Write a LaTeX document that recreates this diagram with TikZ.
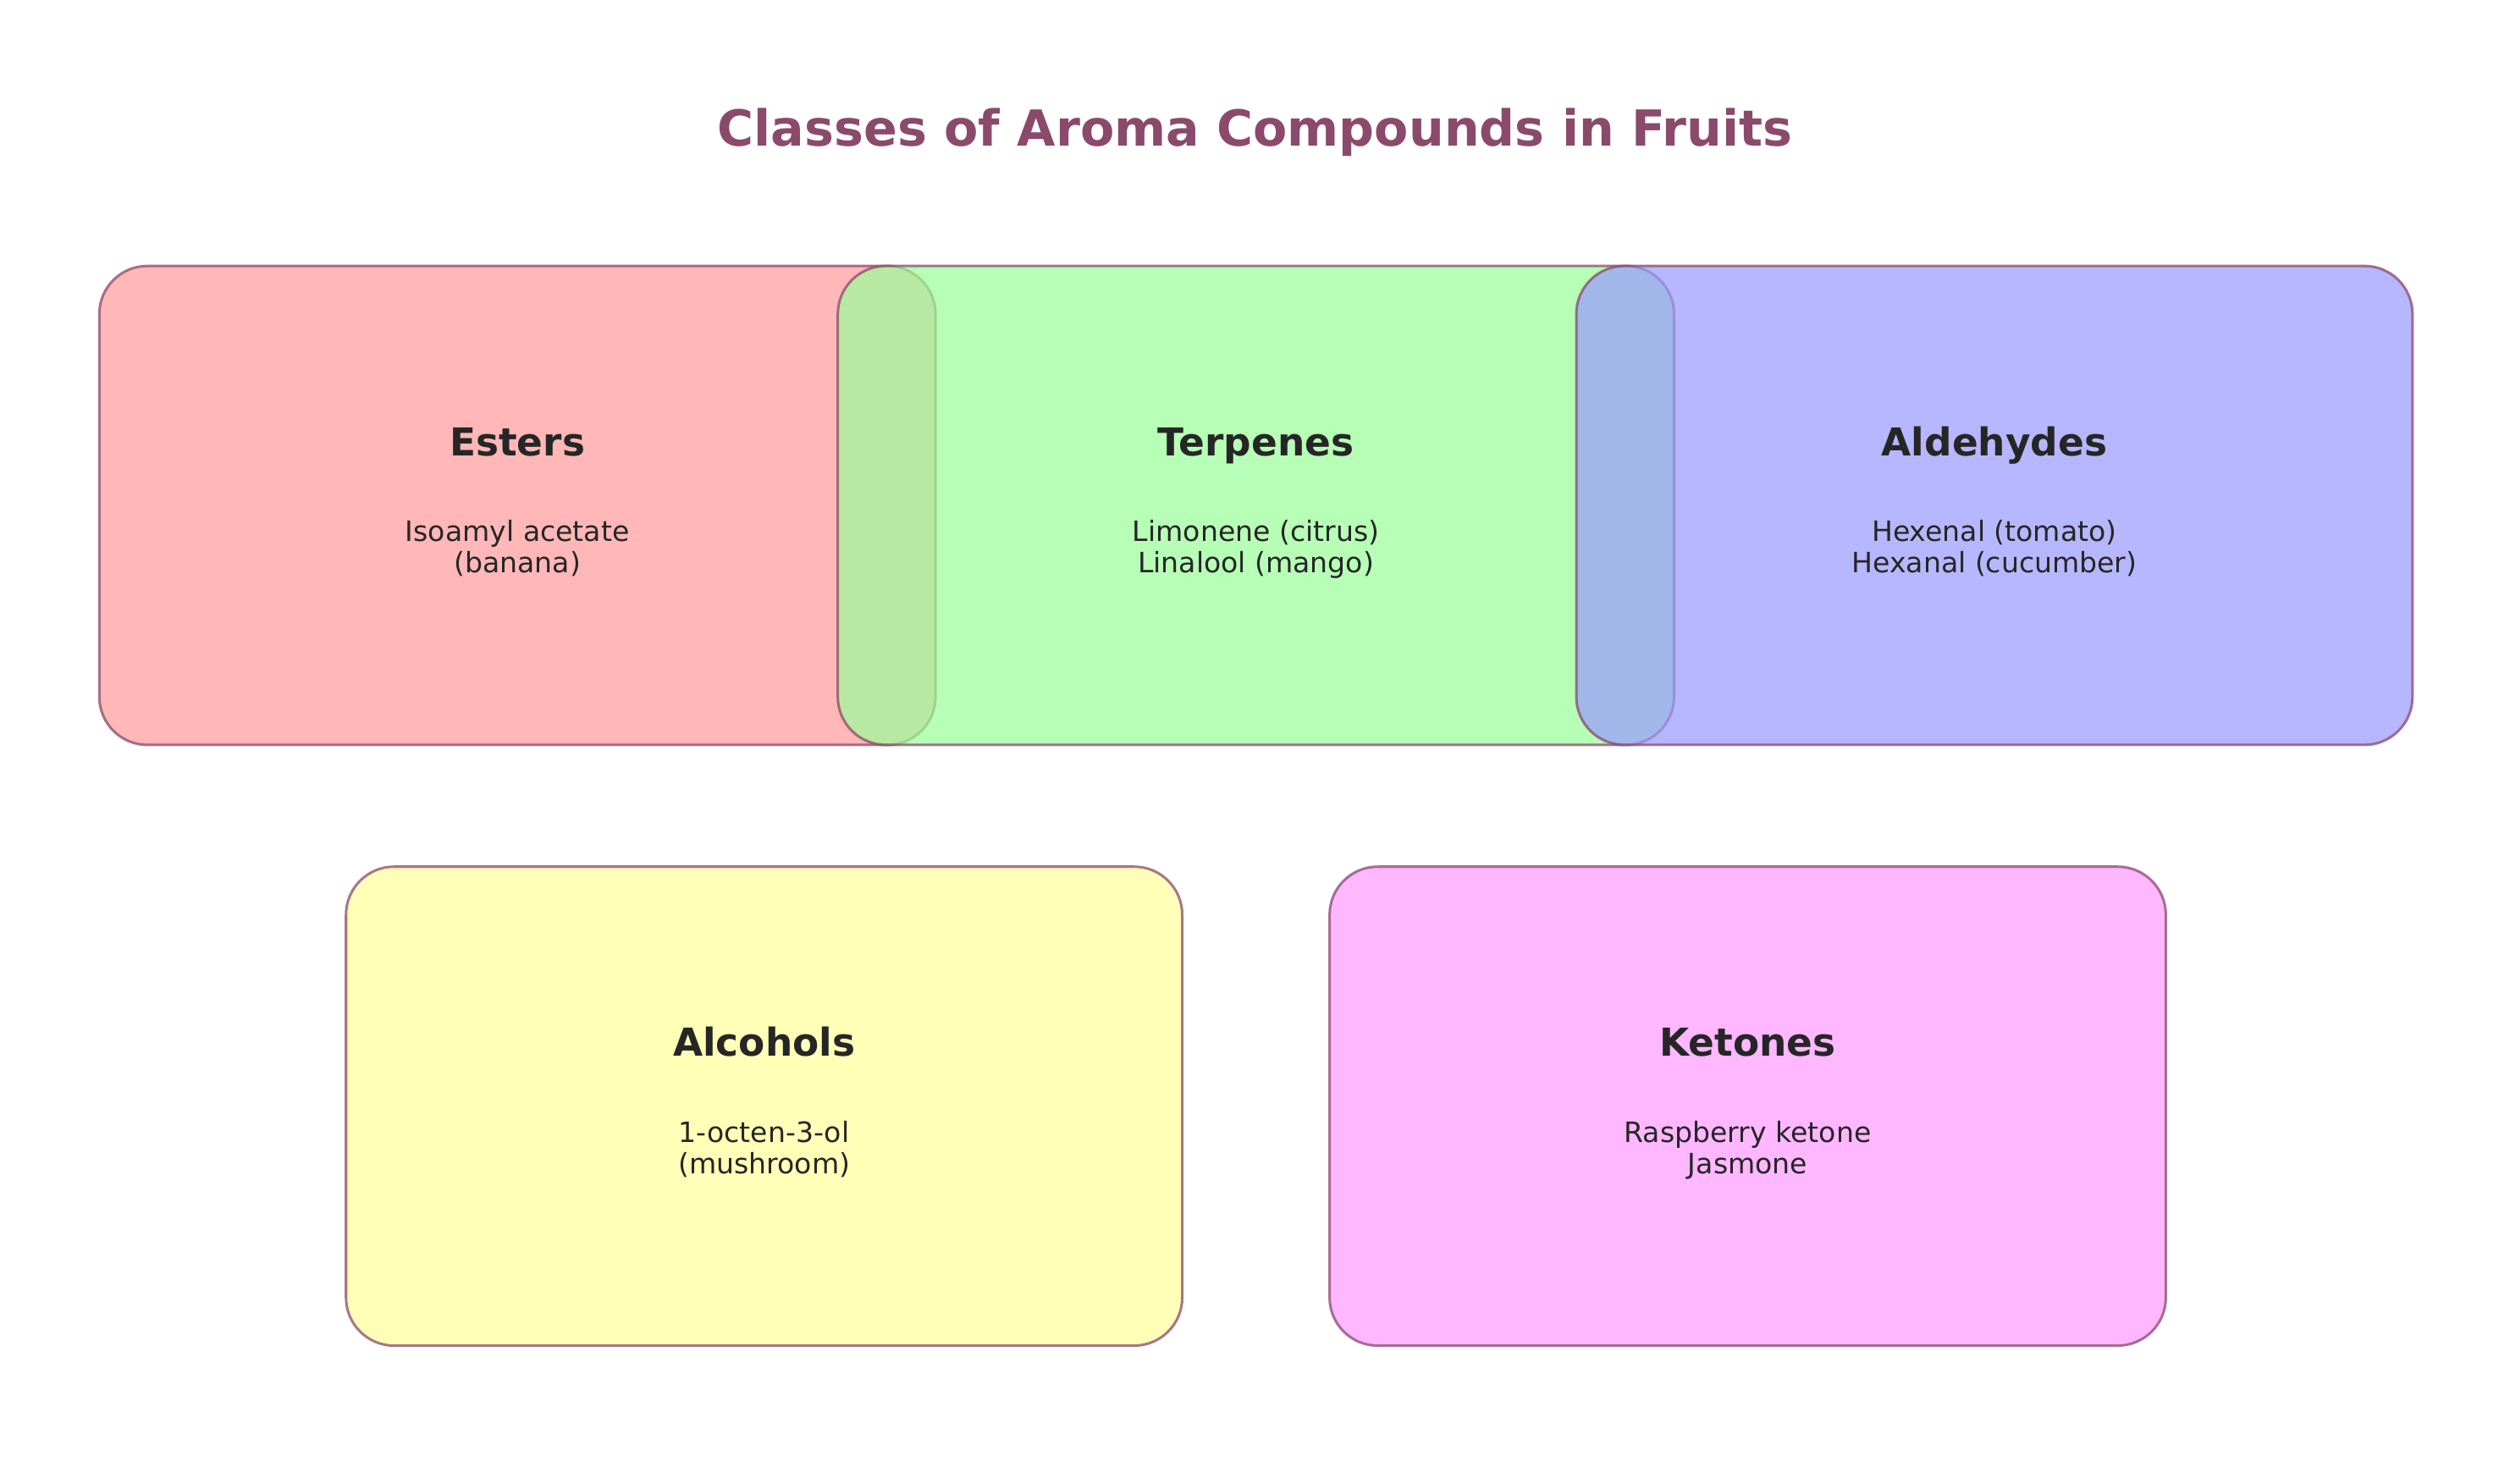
\documentclass[tikz,border=0pt]{standalone}
\usepackage{fontspec}
\setmainfont{DejaVu Sans}
\usepackage{tikz}
\usetikzlibrary{positioning}
\definecolor{plum}{HTML}{8B4A6B}
\definecolor{ink}{HTML}{262626}
\definecolor{esterfill}{HTML}{FF9999}
\definecolor{terpfill}{HTML}{99FF99}
\definecolor{aldfill}{HTML}{9999FF}
\definecolor{alcfill}{HTML}{FFFF99}
\definecolor{ketfill}{HTML}{FF99FF}
\tikzstyle{aroma} = [rectangle,rounded corners=30pt,draw=plum,draw opacity=0.75,line width=1.6pt,fill opacity=0.7,text opacity=1,text=ink,minimum width=522pt,minimum height=299pt,inner sep=0pt,outer sep=0pt,align=center,font=\fontsize{17.5}{19.5}\selectfont,text height=90pt,text depth=6pt]
\newcommand{\AromaClass}[1]{{\fontsize{24}{24}\selectfont\bfseries #1}\\[34pt]}

\begin{document}
\begin{tikzpicture}
	[x=1pt,y=1pt,node distance=76pt]
	\useasboundingbox (0,0) rectangle (1560,-926);
	
	\node (title) [anchor=base,text=plum,font=\fontsize{31}{31}\selectfont\bfseries] at (783.5,-91) {Classes of Aroma Compounds in Fruits};
	
	\node (esters) [aroma,fill=esterfill,anchor=north west] at (62,-166) {\AromaClass{Esters}Isoamyl acetate\\(banana)};
	\node (terpenes) [aroma,fill=terpfill,right=-61pt of esters] {\AromaClass{Terpenes}Limonene (citrus)\\Linalool (mango)};
	\node (aldehydes) [aroma,fill=aldfill,right=-61pt of terpenes] {\AromaClass{Aldehydes}Hexenal (tomato)\\Hexanal (cucumber)};
	\node (alcohols) [aroma,fill=alcfill,below=of terpenes,xshift=-307pt] {\AromaClass{Alcohols}1-octen-3-ol\\(mushroom)};
	\node (ketones) [aroma,fill=ketfill,below=of terpenes,xshift=307pt] {\AromaClass{Ketones}Raspberry ketone\\Jasmone};
\end{tikzpicture}
\end{document}
